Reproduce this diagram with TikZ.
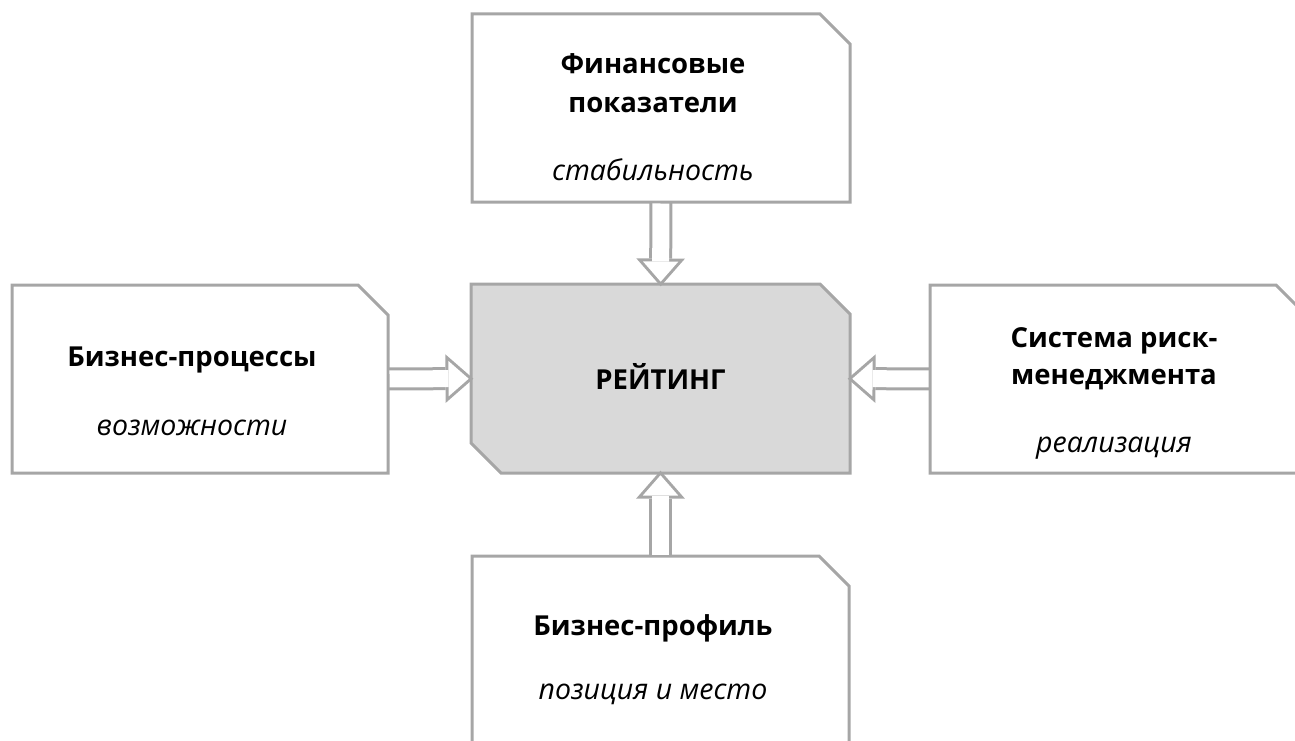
\documentclass[tikz,border=0pt]{standalone}
\usepackage{fontspec}
\setmainfont{Open Sans}
\usetikzlibrary{arrows.meta}
\definecolor{framegray}{HTML}{A6A6A6}
\definecolor{ratingfill}{HTML}{D9D9D9}
\tikzset{
  card/.style={rectangle, inner sep=0pt, outer sep=0pt},
  frame/.style={draw=framegray, line width=3pt, fill=white},
  title/.style={font=\bfseries\fontsize{27.5}{32}\selectfont, anchor=base},
  note/.style={font=\itshape\fontsize{28.5}{32}\selectfont, anchor=base},
  flowback/.style={draw=framegray, line width=23pt,
    -{Triangle[length=27.8pt,width=48.6pt,line width=0pt]}, shorten >=-2.3pt},
  flowfront/.style={draw=white, line width=17pt,
    -{Triangle[length=20.2pt,width=35.4pt,line width=0pt]}, shorten >=2.3pt, shorten <=1.5pt}
}
% outline with the upper right corner cut off
\newcommand{\cardframe}[1]{%
  \draw[frame] (#1.north west) -- ([xshift=-30pt]#1.north east)
    -- ([yshift=-30pt]#1.north east) -- (#1.south east) -- (#1.south west) -- cycle;}
\begin{document}
\begin{tikzpicture}[x=1pt,y=-1pt]
  \useasboundingbox (0,0) rectangle (1295,741);

  % Boxes
  \node[card, minimum width=378pt, minimum height=188pt] (finance) at (661,108) {};
  \node[card, minimum width=376pt, minimum height=188pt] (process) at (200,379) {};
  \node[card, minimum width=376pt, minimum height=188pt] (risk) at (1118,379) {};
  \node[card, minimum width=377pt, minimum height=188pt] (profile) at (660.5,650) {};
  \node[card, minimum width=379pt, minimum height=189pt] (rating) at (660.5,378.5) {};

  \foreach \blk in {finance,process,risk,profile}{\cardframe{\blk}}
  \draw[frame, fill=ratingfill] (rating.north west) -- ([xshift=-30pt]rating.north east)
    -- ([yshift=-30pt]rating.north east) -- (rating.south east)
    -- ([xshift=30pt]rating.south west) -- ([yshift=30pt]rating.south west) -- cycle;

  % Arrows into the rating
  \foreach \src in {finance,process,risk,profile}{
    \draw[flowback] (\src) -- (rating);
    \draw[flowfront] (\src) -- (rating);
  }

  % Texts
  \node[title] (financeA) at (653,74) {Финансовые};
  \node[title] (financeB) at (653,113) {показатели};
  \node[note] (financeC) at (653,180) {стабильность};
  \node[title] (processA) at (192,366) {Бизнес-процессы};
  \node[note] (processB) at (192,435) {возможности};
  \node[title] (ratingA) at (660.5,389) {РЕЙТИНГ};
  \node[title] (riskA) at (1114,347) {Система риск-};
  \node[title] (riskB) at (1114,384) {менеджмента};
  \node[note] (riskC) at (1114,452) {реализация};
  \node[title] (profileA) at (653,635) {Бизнес-профиль};
  \node[note] (profileB) at (653,699) {позиция и место};
\end{tikzpicture}
\end{document}
